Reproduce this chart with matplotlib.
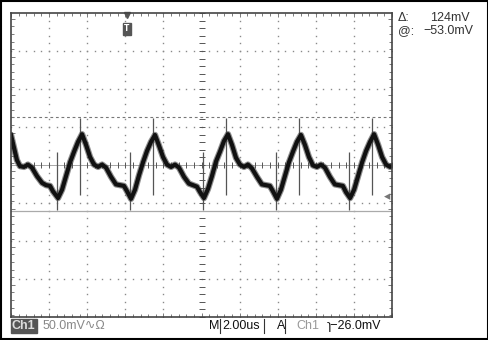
import matplotlib.pyplot as plt
from matplotlib.patches import Rectangle
from matplotlib.ticker import MultipleLocator

# scope settings
time_per_div = 2.0     # us
volts_per_div = 50.0   # mV
screen_center = 7.5    # mV at the middle of the screen

# Ch1 trace, time in us, level in mV
trace_t = [0.00, 0.16, 0.31, 0.47, 0.68, 0.89, 1.10, 1.36, 1.63, 1.84, 2.05, 2.20,
           2.47, 2.68, 2.89, 3.10, 3.31, 3.52, 3.73, 3.94, 4.15, 4.36, 4.57, 4.78, 4.99, 5.25, 5.51, 5.72, 5.93, 6.09,
           6.30, 6.51, 6.72, 6.93, 7.14, 7.35, 7.56, 7.77, 7.98, 8.19, 8.40, 8.61, 8.82, 9.08, 9.34, 9.55, 9.76, 9.92,
           10.13, 10.34, 10.55, 10.76, 10.97, 11.18, 11.39, 11.60, 11.81, 12.02, 12.23, 12.44, 12.65, 12.91, 13.17, 13.38, 13.59, 13.75,
           13.96, 14.17, 14.38, 14.59, 14.80, 15.01, 15.22, 15.43, 15.64, 15.85, 16.06, 16.27, 16.48, 16.74, 17.00, 17.21, 17.42, 17.58,
           17.80, 18.01, 18.22, 18.43, 18.64, 18.85, 19.06, 19.27, 19.48, 19.69, 19.90, 20.00]
trace_mv = [47, 30, 14, 6, 5, 8, 4, -7, -16, -19, -20, -27,
            -36, -25, -7, 11, 25, 38, 48, 34, 18, 8, 5, 8, 4, -8, -18, -19, -20, -27,
            -37, -25, -6, 11, 26, 38, 47, 33, 18, 8, 5, 8, 4, -8, -17, -19, -21, -28,
            -36, -24, -7, 12, 25, 39, 48, 34, 17, 8, 5, 8, 3, -8, -18, -19, -20, -27,
            -37, -25, -7, 11, 25, 38, 47, 34, 18, 7, 5, 8, 4, -8, -18, -19, -20, -28,
            -36, -25, -7, 11, 26, 38, 48, 34, 18, 8, 5, 6]

# glitches near each minimum and each peak
glitch_low_t = [2.41, 6.25, 10.08, 13.91, 17.74]
glitch_low_top = [25, 25, 25, 25, 25]
glitch_low_bot = [-52, -52, -52, -52, -52]
glitch_high_t = [3.62, 7.45, 11.29, 15.12, 18.95]
glitch_high_top = [69, 69, 69, 69, 69]
glitch_high_bot = [-32, -32, -32, -32, -32]

cursor_a = 71.0      # mV
cursor_b = -53.0     # mV
trigger_level = -26.0
trigger_pos = 6.09   # us

fig = plt.figure(figsize=(4.89, 3.40), dpi=100)
fig.patches.append(Rectangle((0.002, 0.003), 0.995, 0.993, transform=fig.transFigure,
                             fill=False, edgecolor='black', linewidth=1.5))

ax = fig.add_axes([11 / 489, 23 / 340, 381 / 489, 304 / 340])
x0, x1 = 0, 10 * time_per_div
y0, y1 = screen_center - 4 * volts_per_div, screen_center + 4 * volts_per_div
ax.set_xlim(x0, x1)
ax.set_ylim(y0, y1)

grid_col = '#8a8a8a'
for s in ax.spines.values():
    s.set_color('#444444')
    s.set_linewidth(1.2)

# edge ticks pointing in
ax.xaxis.set_major_locator(MultipleLocator(time_per_div))
ax.xaxis.set_minor_locator(MultipleLocator(time_per_div / 5))
ax.yaxis.set_major_locator(MultipleLocator(volts_per_div))
ax.yaxis.set_minor_locator(MultipleLocator(volts_per_div / 5))
ax.tick_params(which='both', direction='in', top=True, right=True, colors='#666666',
               labelbottom=False, labelleft=False, width=0.6)
ax.tick_params(which='major', length=3)
ax.tick_params(which='minor', length=2.5)

# dotted graticule
dots_y = [y0 + k * volts_per_div / 5 for k in range(41)]
dots_x = [x0 + k * time_per_div / 5 for k in range(51)]
for i in range(1, 10):
    if i == 5:
        continue
    ax.plot([x0 + i * time_per_div] * len(dots_y), dots_y, ls='none', marker='s',
            ms=1.0, color=grid_col, mew=0)
for j in range(1, 8):
    if j == 4:
        continue
    ax.plot(dots_x, [y0 + j * volts_per_div] * len(dots_x), ls='none', marker='s',
            ms=1.0, color=grid_col, mew=0)

# centre cross with ticks
ax.axhline(screen_center, color='#999999', lw=0.6)
ax.plot([10] * len(dots_y), dots_y, ls='none', marker='_', ms=5, mew=0.7, color='#555555')
ax.plot(dots_x, [screen_center] * len(dots_x), ls='none', marker='|', ms=5, mew=0.7, color='#555555')

# cursors
ax.axhline(cursor_a, color='#777777', lw=0.8, dashes=(2.5, 2.5))
ax.axhline(cursor_b, color='#aaaaaa', lw=0.9)

# glitches and trace
ax.vlines(glitch_low_t, glitch_low_bot, glitch_low_top, color='#555555', lw=0.9)
ax.vlines(glitch_high_t, glitch_high_bot, glitch_high_top, color='#555555', lw=0.9)
ax.plot(trace_t, trace_mv, color='#444444', lw=4.6, alpha=0.6, solid_capstyle='round')
ax.plot(trace_t, trace_mv, color='#111111', lw=3.0, solid_joinstyle='round')

# trigger markers
ax.text(19.75, trigger_level - 8, '\u25c2', color='#777777', fontsize=9, ha='center', va='center')
ax.plot([trigger_pos], [y1 - 2], marker='v', ms=4, color='#555555', clip_on=False)
ax.text(trigger_pos, y1 - 21, 'T', color='white', fontsize=5.5, ha='center', va='center',
        fontweight='bold', bbox=dict(boxstyle='square,pad=0.15', fc='#555555', ec='#555555'))

# readouts
fnt = dict(family=['Liberation Sans', 'DejaVu Sans'], fontsize=9)
fig.text(398 / 489, 1 - 18 / 340, '\u0394:', color='#333333', va='center', **fnt)
fig.text(470 / 489, 1 - 18 / 340, '124mV', color='#333333', va='center', ha='right', **fnt)
fig.text(398 / 489, 1 - 31 / 340, '@:', color='#333333', va='center', **fnt)
fig.text(473 / 489, 1 - 31 / 340, '\u221253.0mV', color='#333333', va='center', ha='right', **fnt)

yb = 1 - 326 / 340
fig.text(12 / 489, yb, 'Ch1', color='#dddddd', va='center', fontweight='bold',
         bbox=dict(boxstyle='square,pad=0.1', fc='#555555', ec='#555555'), **fnt)
fig.text(43 / 489, yb, '50.0mV\u223f\u03a9', color='#888888', va='center', **fnt)
fig.text(209 / 489, yb, 'M', color='#111111', va='center', **fnt)
fig.text(222 / 489, yb, '2.00us', color='#111111', va='center', **fnt)
fig.text(277 / 489, yb, 'A', color='#111111', va='center', **fnt)
fig.text(296 / 489, yb, 'Ch1', color='#999999', va='center', **fnt)
fig.text(327 / 489, yb, '\u027f\u221226.0mV', color='#111111', va='center', **fnt)
for xp in [220, 264, 285]:
    fig.add_artist(plt.Line2D([xp / 489, xp / 489], [yb - 0.022, yb + 0.022], color='#333333', lw=0.8))

fig.savefig('out.png', dpi=100)
